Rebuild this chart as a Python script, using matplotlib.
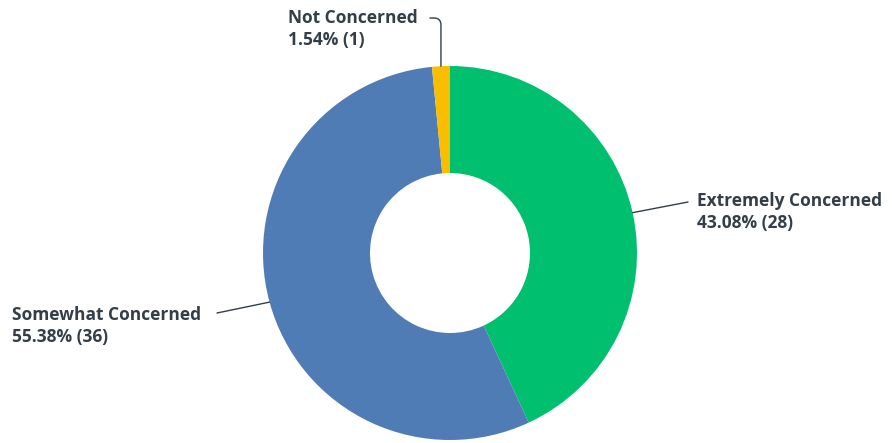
import numpy as np
import matplotlib
matplotlib.use("Agg")
import matplotlib.pyplot as plt

# Survey answers, clockwise from 12 o'clock
labels = ["Extremely Concerned", "Somewhat Concerned", "Not Concerned"]
percents = [43.08, 55.38, 1.54]
counts = [28, 36, 1]
colors = ["#00BF6F", "#507CB6", "#F9BE00"]

W, H = 892, 443
fig = plt.figure(figsize=(W / 100, H / 100), dpi=100)
ax = fig.add_axes([0, 0, 1, 1])

cx, cy, r = 450, 190, 187
wedges, _ = ax.pie(percents, colors=colors, startangle=90, counterclock=False,
                   center=(cx, cy), radius=r, frame=True,
                   wedgeprops=dict(width=r - 80, linewidth=0))
ax.set_xlim(0, W)
ax.set_ylim(0, H)
ax.set_aspect("equal")
ax.axis("off")

txt = dict(fontsize=12.5, fontweight="bold", color="#333E48",
           family=["Open Sans", "DejaVu Sans"], linespacing=1.25, va="center", ha="left")
line = dict(arrowstyle="-", color="#333E48", lw=1, shrinkA=0, shrinkB=0)


def edge_point(w):
    a = np.deg2rad((w.theta1 + w.theta2) / 2)
    return cx + r * np.cos(a), cy + r * np.sin(a)


# label placement (text anchor, leader end)
text_pos = [(697, H - 212), (12, H - 326), (288, H - 29)]
leader_end = [(688, H - 202), (217, H - 313), (430, H - 18)]

for i, w in enumerate(wedges):
    s = f"{labels[i]}\n{percents[i]:.2f}% ({counts[i]})"
    ax.text(*text_pos[i], s, **txt)
    p = edge_point(w)
    if i == 2:
        ax.annotate("", xy=p, xytext=leader_end[i],
                    arrowprops=dict(line, connectionstyle="angle,angleA=0,angleB=90,rad=7"))
    else:
        ax.annotate("", xy=p, xytext=leader_end[i], arrowprops=line)

fig.savefig("out.png", dpi=100, facecolor="white")
